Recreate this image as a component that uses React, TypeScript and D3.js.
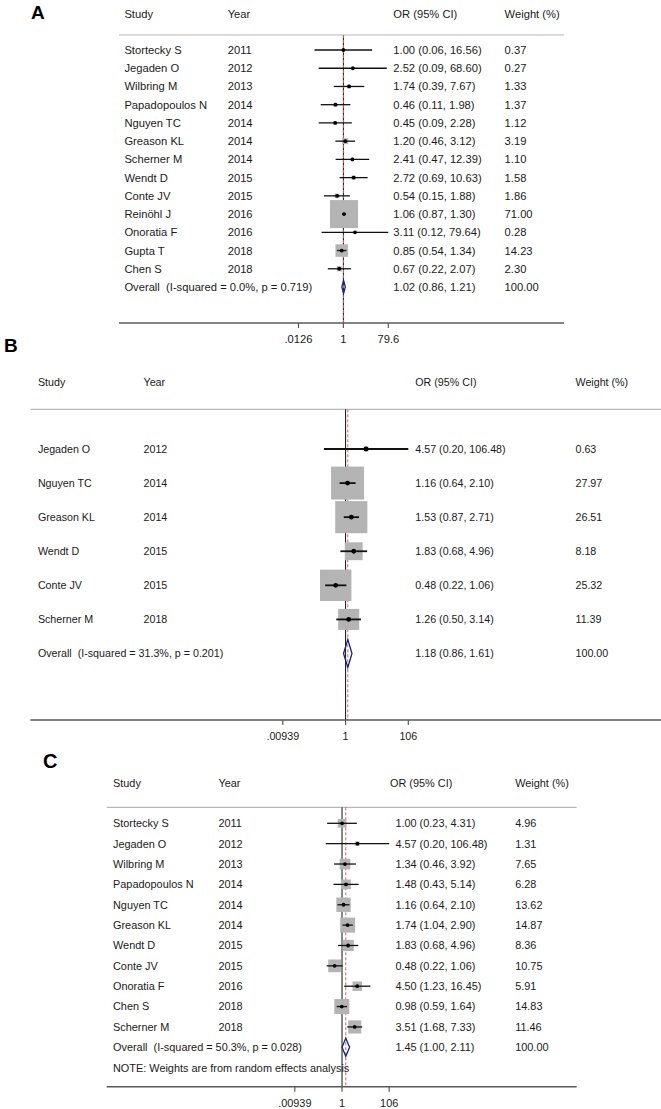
import React from "react";
import * as d3 from "d3";

// ---------- Panel A data ----------
const studiesA = ["Stortecky S", "Jegaden O", "Wilbring M", "Papadopoulos N", "Nguyen TC", "Greason KL", "Scherner M", "Wendt D", "Conte JV", "Reinöhl J", "Onoratia F", "Gupta T", "Chen S"];
const yearsA = [2011, 2012, 2013, 2014, 2014, 2014, 2014, 2015, 2015, 2016, 2016, 2018, 2018];
const orA = [1.0, 2.52, 1.74, 0.46, 0.45, 1.2, 2.41, 2.72, 0.54, 1.06, 3.11, 0.85, 0.67];
const lowA = [0.06, 0.09, 0.39, 0.11, 0.09, 0.46, 0.47, 0.69, 0.15, 0.87, 0.12, 0.54, 0.22];
const highA = [16.56, 68.6, 7.67, 1.98, 2.28, 3.12, 12.39, 10.63, 1.88, 1.3, 79.64, 1.34, 2.07];
const weightA = [0.37, 0.27, 1.33, 1.37, 1.12, 3.19, 1.1, 1.58, 1.86, 71.0, 0.28, 14.23, 2.3];
const overallA = { label: "Overall  (I-squared = 0.0%, p = 0.719)", or: 1.02, low: 0.86, high: 1.21, weight: 100 };
const ticksA = [0.0126, 1, 79.6];
const tickLabelsA = [".0126", "1", "79.6"];

// ---------- Panel B data ----------
const studiesB = ["Jegaden O", "Nguyen TC", "Greason KL", "Wendt D", "Conte JV", "Scherner M"];
const yearsB = [2012, 2014, 2014, 2015, 2015, 2018];
const orB = [4.57, 1.16, 1.53, 1.83, 0.48, 1.26];
const lowB = [0.2, 0.64, 0.87, 0.68, 0.22, 0.5];
const highB = [106.48, 2.1, 2.71, 4.96, 1.06, 3.14];
const weightB = [0.63, 27.97, 26.51, 8.18, 25.32, 11.39];
const overallB = { label: "Overall  (I-squared = 31.3%, p = 0.201)", or: 1.18, low: 0.86, high: 1.61, weight: 100 };
const ticksB = [0.00939, 1, 106];
const tickLabelsB = [".00939", "1", "106"];

// ---------- Panel C data ----------
const studiesC = ["Stortecky S", "Jegaden O", "Wilbring M", "Papadopoulos N", "Nguyen TC", "Greason KL", "Wendt D", "Conte JV", "Onoratia F", "Chen S", "Scherner M"];
const yearsC = [2011, 2012, 2013, 2014, 2014, 2014, 2015, 2015, 2016, 2018, 2018];
const orC = [1.0, 4.57, 1.34, 1.48, 1.16, 1.74, 1.83, 0.48, 4.5, 0.98, 3.51];
const lowC = [0.23, 0.2, 0.46, 0.43, 0.64, 1.04, 0.68, 0.22, 1.23, 0.59, 1.68];
const highC = [4.31, 106.48, 3.92, 5.14, 2.1, 2.9, 4.96, 1.06, 16.45, 1.64, 7.33];
const weightC = [4.96, 1.31, 7.65, 6.28, 13.62, 14.87, 8.36, 10.75, 5.91, 14.83, 11.46];
const overallC = { label: "Overall  (I-squared = 50.3%, p = 0.028)", or: 1.45, low: 1.0, high: 2.11, weight: 100 };
const ticksC = [0.00939, 1, 106];
const tickLabelsC = [".00939", "1", "106"];
const noteC = "NOTE: Weights are from random effects analysis";

const FONT = "'Liberation Sans', Arial, sans-serif";
const TEXT = "#1a1a1a";

type PanelCfg = {
  letter: string;
  letterX: number;
  letterY: number;
  letterSize: number;
  fontSize: number;
  headerY: number;
  colX: [number, number, number, number];
  orHeaderX: number;
  sepY: number;
  sepX: [number, number];
  rowY0: number;
  rowY1: number;
  axisY: number;
  axisX: [number, number];
  xRange: [number, number];
  maxBox: number;
  diamondH: number;
  ciWidth: number;
  studies: string[];
  years: number[];
  or: number[];
  low: number[];
  high: number[];
  weight: number[];
  overall: { label: string; or: number; low: number; high: number; weight: number };
  ticks: number[];
  tickLabels: string[];
  note?: string;
  noteY?: number;
};

function Panel({ c }: { c: PanelCfg }) {
  const x = d3.scaleLog().domain([c.ticks[0], c.ticks[c.ticks.length - 1]]).range(c.xRange);
  const n = c.studies.length;
  const y = d3.scaleLinear().domain([0, n]).range([c.rowY0, c.rowY1]);
  const box = d3.scaleSqrt().domain([0, d3.max(c.weight) as number]).range([0, c.maxBox]);
  const [xMin, xMax] = c.xRange;
  const clampX = (v: number) => Math.max(xMin, Math.min(xMax, x(v)));
  const fmt = (v: number) => v.toFixed(2);
  const base = c.fontSize * 0.36;
  const x1 = x(1);
  const xOv = x(c.overall.or);
  const oy = y(n);

  return (
    <g fontFamily={FONT} style={{ whiteSpace: "pre" }}>
      <text x={c.letterX} y={c.letterY} fontSize={c.letterSize} fontWeight="bold" fill="#000">{c.letter}</text>
      {/* header */}
      <g fontSize={c.fontSize} fill={TEXT}>
        <text x={c.colX[0]} y={c.headerY}>Study</text>
        <text x={c.colX[1]} y={c.headerY}>Year</text>
        <text x={c.orHeaderX} y={c.headerY}>OR (95% CI)</text>
        <text x={c.colX[3]} y={c.headerY}>Weight (%)</text>
      </g>
      <line x1={c.sepX[0]} x2={c.sepX[1]} y1={c.sepY} y2={c.sepY} stroke="#b8b8b8" strokeWidth={1.2} />
      {/* null line */}
      <line x1={x1} x2={x1} y1={c.sepY} y2={c.axisY} stroke="#111" strokeWidth={1} />
      {/* overall dashed line */}
      <line x1={xOv} x2={xOv} y1={c.sepY} y2={c.axisY} stroke="#c8646e" strokeWidth={1} strokeDasharray="3,2" />
      {/* studies */}
      {c.studies.map((s, i) => {
        const yy = y(i);
        const side = box(c.weight[i]);
        const lx = clampX(c.low[i]);
        const hx = clampX(c.high[i]);
        const arrowR = x(c.high[i]) > xMax + 0.5;
        const arrowL = x(c.low[i]) < xMin - 0.5;
        return (
          <g key={i}>
            <rect x={x(c.or[i]) - side / 2} y={yy - side / 2} width={side} height={side} fill="#b4b4b4" />
            <line x1={lx} x2={hx} y1={yy} y2={yy} stroke="#111" strokeWidth={c.ciWidth} />
            {arrowR && <path d={`M${hx - 4},${yy - 4}L${hx},${yy}L${hx - 4},${yy + 4}`} fill="none" stroke="#111" strokeWidth={1.2} />}
            {arrowL && <path d={`M${lx + 4},${yy - 4}L${lx},${yy}L${lx + 4},${yy + 4}`} fill="none" stroke="#111" strokeWidth={1.2} />}
            <circle cx={x(c.or[i])} cy={yy} r={c.ciWidth + 0.6} fill="#000" />
            <g fontSize={c.fontSize} fill={TEXT}>
              <text x={c.colX[0]} y={yy + base}>{s}</text>
              <text x={c.colX[1]} y={yy + base}>{c.years[i]}</text>
              <text x={c.colX[2]} y={yy + base}>{`${fmt(c.or[i])} (${fmt(c.low[i])}, ${fmt(c.high[i])})`}</text>
              <text x={c.colX[3]} y={yy + base}>{fmt(c.weight[i])}</text>
            </g>
          </g>
        );
      })}
      {/* overall */}
      <polygon
        points={[[x(c.overall.low), oy], [xOv, oy - c.diamondH], [x(c.overall.high), oy], [xOv, oy + c.diamondH]].map((p) => p.join(",")).join(" ")}
        fill="none"
        stroke="#1c237a"
        strokeWidth={1.3}
      />
      <g fontSize={c.fontSize} fill={TEXT}>
        <text x={c.colX[0]} y={oy + base} xmlSpace="preserve">{c.overall.label}</text>
        <text x={c.colX[2]} y={oy + base}>{`${fmt(c.overall.or)} (${fmt(c.overall.low)}, ${fmt(c.overall.high)})`}</text>
        <text x={c.colX[3]} y={oy + base}>{fmt(c.overall.weight)}</text>
        {c.note && <text x={c.colX[0]} y={(c.noteY as number) + base}>{c.note}</text>}
      </g>
      {/* axis */}
      <line x1={c.axisX[0]} x2={c.axisX[1]} y1={c.axisY} y2={c.axisY} stroke="#595959" strokeWidth={1.6} />
      {c.ticks.map((t, i) => (
        <g key={i}>
          <line x1={x(t)} x2={x(t)} y1={c.axisY} y2={c.axisY + 5} stroke="#595959" strokeWidth={1.2} />
          <text x={x(t)} y={c.axisY + 20} textAnchor="middle" fontSize={c.fontSize} fill={TEXT}>{c.tickLabels[i]}</text>
        </g>
      ))}
    </g>
  );
}

const panelA: PanelCfg = {
  letter: "A", letterX: 31, letterY: 18.5, letterSize: 19, fontSize: 11.2,
  headerY: 17.5, colX: [124.4, 227.7, 393.3, 504.6], orHeaderX: 393.3,
  sepY: 35, sepX: [119, 564], rowY0: 50, rowY1: 287,
  axisY: 323, axisX: [119, 564], xRange: [298.5, 388.3], maxBox: 28, diamondH: 6.5, ciWidth: 1.3,
  studies: studiesA, years: yearsA, or: orA, low: lowA, high: highA, weight: weightA,
  overall: overallA, ticks: ticksA, tickLabels: tickLabelsA,
};

const panelB: PanelCfg = {
  letter: "B", letterX: 4, letterY: 352, letterSize: 19, fontSize: 10.7,
  headerY: 385.5, colX: [37.9, 143.5, 415.3, 575.5], orHeaderX: 415.3,
  sepY: 409.3, sepX: [30.4, 661], rowY0: 449, rowY1: 653.5,
  axisY: 720, axisX: [30.4, 661], xRange: [282.8, 408.3], maxBox: 33, diamondH: 14, ciWidth: 1.8,
  studies: studiesB, years: yearsB, or: orB, low: lowB, high: highB, weight: weightB,
  overall: overallB, ticks: ticksB, tickLabels: tickLabelsB,
};

const panelC: PanelCfg = {
  letter: "C", letterX: 43, letterY: 768, letterSize: 20, fontSize: 10.9,
  headerY: 787.3, colX: [113, 218.4, 395.4, 515.2], orHeaderX: 390,
  sepY: 807.3, sepX: [106.7, 576.7], rowY0: 823.3, rowY1: 1047.3,
  axisY: 1086.7, axisX: [106.7, 576.7], xRange: [294.8, 389.2], maxBox: 15, diamondH: 9, ciWidth: 1.3,
  studies: studiesC, years: yearsC, or: orC, low: lowC, high: highC, weight: weightC,
  overall: overallC, ticks: ticksC, tickLabels: tickLabelsC, note: noteC, noteY: 1068.3,
};

export default function App() {
  return (
    <div style={{ position: "absolute", left: 0, top: 0 }}>
      <svg width={661} height={1109} viewBox="0 0 661 1109" style={{ display: "block", background: "#fff" }}>
        <rect x={0} y={0} width={661} height={1109} fill="#fff" />
        <Panel c={panelA} />
        <Panel c={panelB} />
        <Panel c={panelC} />
      </svg>
    </div>
  );
}
